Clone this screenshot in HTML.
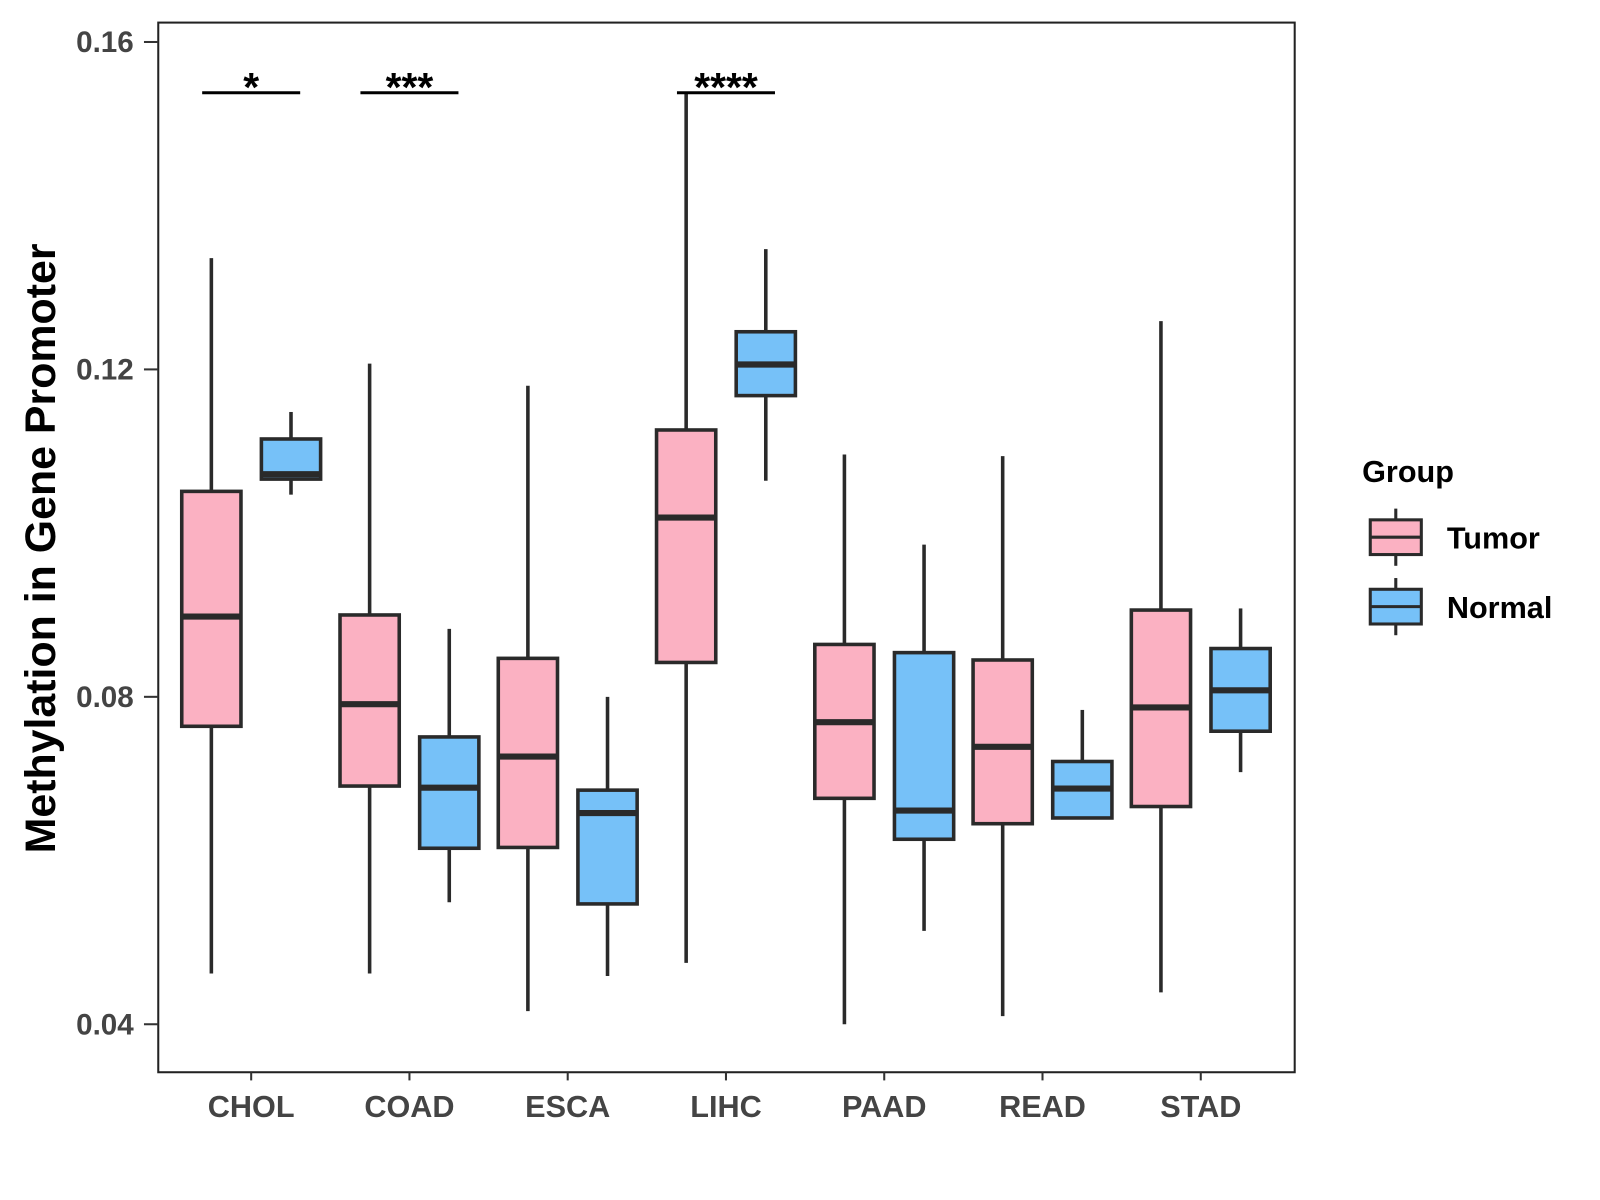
<!DOCTYPE html>
<html><head><meta charset="utf-8"><style>
html,body{margin:0;padding:0;background:#fff;}
svg{display:block;font-family:"Liberation Sans",Arial,sans-serif;}
</style></head><body>
<svg id="chart" width="1600" height="1200" viewBox="0 0 1567 1175"></svg>
<script>
const categories = ["CHOL","COAD","ESCA","LIHC","PAAD","READ","STAD"];
const groups = ["Tumor","Normal"];
// [low, q1, median, q3, high]
const tumorStats = [
  [0.0462,0.0764,0.0898,0.1051,0.1336],
  [0.0462,0.0691,0.0791,0.0900,0.1207],
  [0.0416,0.0616,0.0727,0.0847,0.1180],
  [0.0475,0.0842,0.1019,0.1126,0.1538],
  [0.0400,0.0676,0.0769,0.0864,0.1096],
  [0.0410,0.0645,0.0739,0.0845,0.1094],
  [0.0439,0.0666,0.0787,0.0906,0.1259]
];
const normalStats = [
  [0.1047,0.1066,0.1072,0.1115,0.1148],
  [0.0549,0.0615,0.0689,0.0751,0.0883],
  [0.0459,0.0547,0.0658,0.0686,0.0800],
  [0.1064,0.1168,0.1206,0.1246,0.1347],
  [0.0514,0.0626,0.0661,0.0854,0.0986],
  [0.0652,0.0652,0.0688,0.0721,0.0784],
  [0.0708,0.0758,0.0808,0.0859,0.0908]
];
const yTicks = [0.04,0.08,0.12,0.16];
const yTickLabels = ["0.04","0.08","0.12","0.16"];
const sigCategories = ["CHOL","COAD","LIHC"];
const sigLabels = ["*","***","****"];
const sigLevel = [0.1538,0.1538,0.1538];

const NS="http://www.w3.org/2000/svg";
const svg=document.getElementById('chart');
const P={l:155,r:1268,t:22,b:1050};
const y=v=>1003-(v-0.04)*(962/0.12);
const x=c=>246+categories.indexOf(c)*155;
function mk(tag,attrs,parent){const e=document.createElementNS(NS,tag);for(const k in attrs)e.setAttribute(k,attrs[k]);(parent||svg).appendChild(e);return e;}

const panel=mk('rect',{x:P.l,y:P.t,width:P.r-P.l,height:P.b-P.t,fill:'none',stroke:'#222','stroke-width':2});



yTicks.forEach((t,i)=>{
  const ln=mk('line',{x1:P.l-14,x2:P.l,y1:y(t),y2:y(t),stroke:'#333','stroke-width':2});
  
  
  const tx=mk('text',{x:P.l-24,y:y(t)+10,'text-anchor':'end','font-size':29,'font-weight':'bold',fill:'#444'});
  tx.textContent=yTickLabels[i];
  
  
});
categories.forEach(c=>{
  const ln=mk('line',{x1:x(c),x2:x(c),y1:P.b,y2:P.b+8,stroke:'#333','stroke-width':2});
  
  
  const tx=mk('text',{x:x(c),y:1094,'text-anchor':'middle','font-size':30,'font-weight':'bold',fill:'#444'});
  tx.textContent=c;
  
  
});

function box(cx,s,fill,name){
  const g=mk('g',{});
  
  
  const st={stroke:'#2a2a2a','stroke-width':3.5};
  mk('line',Object.assign({x1:cx,x2:cx,y1:y(s[4]),y2:y(s[3])},st),g);
  mk('line',Object.assign({x1:cx,x2:cx,y1:y(s[1]),y2:y(s[0])},st),g);
  mk('rect',Object.assign({x:cx-29,width:58,y:y(s[3]),height:y(s[1])-y(s[3]),fill:fill},st),g);
  mk('line',{x1:cx-29,x2:cx+29,y1:y(s[2]),y2:y(s[2]),stroke:'#2a2a2a','stroke-width':6},g);
}
categories.forEach((c,i)=>{
  box(x(c)-39,tumorStats[i],'#fbb1c2','box-tumor-'+c.toLowerCase());
  box(x(c)+39,normalStats[i],'#76c1f8','box-normal-'+c.toLowerCase());
});

sigCategories.forEach((c,i)=>{
  const ln=mk('line',{x1:x(c)-48,x2:x(c)+48,y1:y(sigLevel[i]),y2:y(sigLevel[i]),stroke:'#000','stroke-width':3});
  
  
  const tx=mk('text',{x:x(c),y:y(sigLevel[i])+8,'text-anchor':'middle','font-size':40,'font-weight':'bold',fill:'#000'});
  tx.textContent=sigLabels[i];
  
  
});

const yl=mk('text',{x:0,y:0,transform:'translate(54,537) rotate(-90)','text-anchor':'middle','font-size':42,'font-weight':'bold',fill:'#000'});
yl.textContent='Methylation in Gene Promoter';



const lt=mk('text',{x:1334,y:472,'font-size':30,'font-weight':'bold',fill:'#000'});
lt.textContent='Group';


[['Tumor','#fbb1c2',526],['Normal','#76c1f8',594]].forEach(([lab,col,cy])=>{
  const g=mk('g',{});
  
  
  mk('line',{x1:1367,x2:1367,y1:cy-28,y2:cy+28,stroke:'#2a2a2a','stroke-width':3},g);
  mk('rect',{x:1342,y:cy-17,width:50,height:34,fill:col,stroke:'#2a2a2a','stroke-width':3},g);
  mk('line',{x1:1342,x2:1392,y1:cy,y2:cy,stroke:'#2a2a2a','stroke-width':3},g);
  const t=mk('text',{x:1417,y:cy+11,'font-size':30,'font-weight':'bold',fill:'#000'},g);
  t.textContent=lab;
});
</script>
</body></html>
